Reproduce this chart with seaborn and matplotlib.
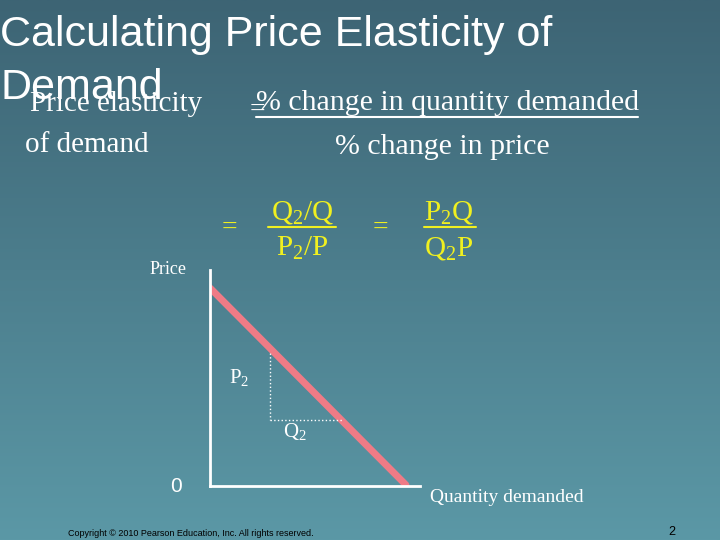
import numpy as np
import pandas as pd
import seaborn as sns
import matplotlib.pyplot as plt
from matplotlib.colors import LinearSegmentedColormap

sns.set_style("white")
plt.rcParams["mathtext.fontset"] = "custom"
plt.rcParams["mathtext.rm"] = "Liberation Serif"
plt.rcParams["mathtext.it"] = "Liberation Serif:italic"

# demand curve and reference points (axis units 0..10)
demand_q = [0.0, 9.33]
demand_p = [9.17, 0.05]
p2_point = (2.86, 6.16)
q2_point = (6.29, 3.06)

fig = plt.figure(figsize=(7.2, 5.4), dpi=100)

# slide background gradient
bg = fig.add_axes([0, 0, 1, 1])
grad = np.linspace(0, 1, 256).reshape(-1, 1)
cmap = LinearSegmentedColormap.from_list("slide", ["#3d6474", "#5b98a6"])
bg.imshow(grad, aspect="auto", cmap=cmap, extent=[0, 1, 0, 1], origin="upper")
bg.set_xlim(0, 1)
bg.set_ylim(0, 1)
bg.axis("off")

serif = "Liberation Serif"
sans = "Liberation Sans"
W, H = 720, 540


def txt(x, y, s, size, color="white", family=serif, **kw):
    fig.text(x / W, 1 - y / H, s, fontsize=size, color=color, family=family, va="center", **kw)


txt(0, 35, "Calculating Price Elasticity of", 31, family=sans)
txt(0, 88, "Demand", 31, family=sans)
txt(30, 104, "Price elasticity", 21)
txt(25, 145, "of demand", 21)
txt(250, 110, "=", 20)
txt(447, 103, "% change in quantity demanded", 21.5, ha="center")
fig.add_artist(plt.Line2D([256 / W, 638 / W], [1 - 117 / H] * 2, color="white", lw=1.5))
txt(442, 147, "% change in price", 21.5, ha="center")

yellow = "#f0f020"
txt(222, 228, "=", 20, color=yellow)
txt(302, 213, "Q$_2$/Q", 21, color=yellow, ha="center")
txt(302, 248, "P$_2$/P", 21, color=yellow, ha="center")
fig.add_artist(plt.Line2D([268 / W, 336 / W], [1 - 227 / H] * 2, color=yellow, lw=1.5))
txt(373, 228, "=", 20, color=yellow)
txt(449, 213, "P$_2$Q", 21, color=yellow, ha="center")
txt(449, 248, "Q$_2$P", 21, color=yellow, ha="center")
fig.add_artist(plt.Line2D([424 / W, 476 / W], [1 - 227 / H] * 2, color=yellow, lw=1.5))

# demand chart
ax = fig.add_axes([210 / W, 1 - 486 / H, 210 / W, 216 / H])
ax.patch.set_alpha(0)
ax.set_xlim(0, 10)
ax.set_ylim(0, 10)
for side in ["top", "right"]:
    ax.spines[side].set_visible(False)
for side in ["left", "bottom"]:
    ax.spines[side].set_color("white")
    ax.spines[side].set_linewidth(2)
ax.set_xticks([])
ax.set_yticks([])

df = pd.DataFrame({"q": demand_q, "p": demand_p})
sns.lineplot(data=df, x="q", y="p", ax=ax, color="#ef7b86", lw=5, solid_capstyle="round")
ax.plot([p2_point[0], p2_point[0]], [p2_point[1], q2_point[1]], color="white", ls=":", lw=1)
ax.plot([p2_point[0], q2_point[0]], [q2_point[1], q2_point[1]], color="white", ls=":", lw=1)
ax.set_xlabel("")
ax.set_ylabel("")

txt(150, 270, "Price", 13)
txt(229, 378, "P$_2$", 15)
txt(283, 432, "Q$_2$", 15)
txt(170, 487, "0", 15, family=sans)
txt(430, 497, "Quantity demanded", 14)
txt(68, 534, "Copyright © 2010 Pearson Education, Inc. All rights reserved.", 6.5, family=sans, color="black")
txt(668, 532, "2", 9, family=sans, color="black")

fig.savefig("out.png", dpi=100)
